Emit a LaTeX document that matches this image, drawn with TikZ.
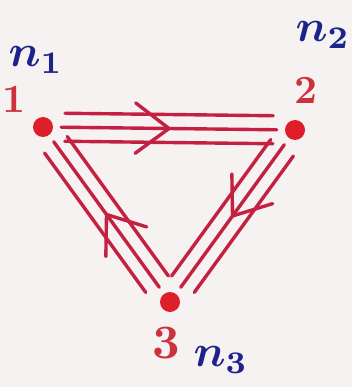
\documentclass[tikz,border=0pt]{standalone}
\usepackage{graphicx}
\usetikzlibrary{calc,decorations.markings}
\definecolor{paper}{RGB}{247,242,242}
\definecolor{inkred}{RGB}{196,32,66}
\definecolor{dotred}{RGB}{222,30,40}
\definecolor{numred}{RGB}{205,50,60}
\definecolor{nblue}{RGB}{28,36,140}

\begin{document}
\begin{tikzpicture}[x=1pt,y=-1pt,
  vertex/.style={circle,fill=dotred,inner sep=0pt,minimum size=20pt},
  nlabel/.style={text=nblue,inner sep=0pt},
  vnum/.style={text=numred,inner sep=0pt,font=\bfseries},
  edge/.style={draw=inkred,line width=3.4pt,line cap=round},
  arrowmark/.style={postaction={decorate,decoration={markings,
    mark=at position 0.5 with {\draw[inkred,line width=3.4pt,line cap=round,line join=round]
      (-40pt,30pt) -- (0,0) -- (-40pt,-30pt);}}}}]
\fill[paper] (0,0) rectangle (352,387);
\useasboundingbox (0,0) rectangle (352,387);
% the three vertices
\node[vertex] (v1) at (43,127) {};
\node[vertex] (v2) at (295,130) {};
\node[vertex] (v3) at (170,302) {};
\node[vnum] (l1) at (14,99) {\scalebox{4}{1}};
\node[vnum] (l2) at (306,90) {\scalebox{4}{2}};
\node[vnum] (l3) at (166,343) {\scalebox{4.8}{3}};
\node[nlabel] (n1) at (36,60) {\scalebox{4.5}{\boldmath$n_1$}};
\node[nlabel] (n2) at (323,35) {\scalebox{4.5}{\boldmath$n_2$}};
\node[nlabel] (n3) at (221,360) {\scalebox{4.5}{\boldmath$n_3$}};
% triple lines, one arrow on each side
\foreach \a/\b in {v1/v2,v2/v3,v3/v1}{
  \draw[edge,arrowmark,shorten <=8pt,shorten >=8pt] (\a) -- (\b);
  \draw[edge] ($(\a)!22pt!(\b)!14pt!90:(\b)$) -- ($(\b)!22pt!(\a)!14pt!-90:(\a)$);
  \draw[edge] ($(\a)!22pt!(\b)!14pt!-90:(\b)$) -- ($(\b)!22pt!(\a)!14pt!90:(\a)$);
}
\end{tikzpicture}
\end{document}
